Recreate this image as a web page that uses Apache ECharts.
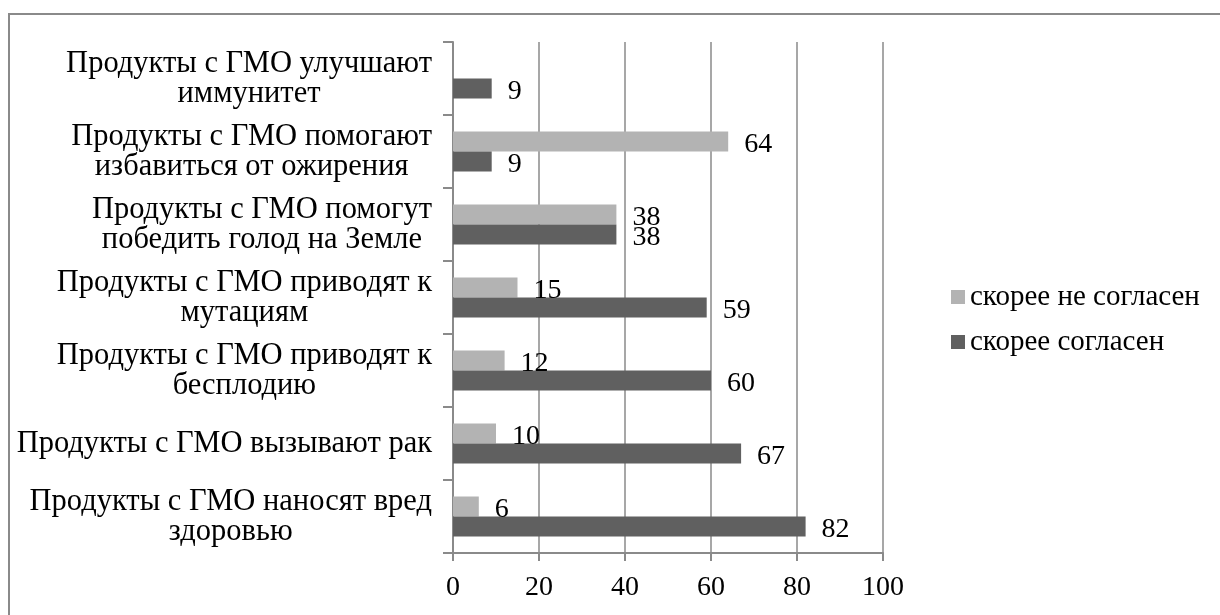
<!DOCTYPE html>
<html>
<head>
<meta charset="utf-8">
<script src="https://cdn.jsdelivr.net/npm/echarts@6/dist/echarts.min.js"></script>
<style>html,body{margin:0;padding:0;background:#fff}#c{width:1220px;height:615px}</style>
</head>
<body>
<div id="c"></div>
<script>
const categories = [
  "Продукты с ГМО наносят вред\nздоровью",
  "Продукты с ГМО вызывают рак",
  "Продукты с ГМО приводят к\nбесплодию",
  "Продукты с ГМО приводят к\nмутациям",
  "Продукты с ГМО помогут\nпобедить голод на Земле",
  "Продукты с ГМО помогают\nизбавиться от ожирения",
  "Продукты с ГМО улучшают\nиммунитет"
];
const agreeName = "скорее согласен";
const disagreeName = "скорее не согласен";
const agree = [82, 67, 60, 59, 38, 9, 9];
const disagree = [6, 10, 12, 15, 38, 64, null];
const xTicks = [0, 20, 40, 60, 80, 100];

const FONT = "'Liberation Serif', 'Times New Roman', serif";
const chart = echarts.init(document.getElementById('c'), null, {renderer: 'canvas'});
const labelCommon = {
  show: true, position: 'right', distance: 16, offset: [0, 3],
  fontFamily: FONT, fontSize: 28, color: '#000',
  formatter: p => (p.value == null ? '' : String(p.value))
};
chart.setOption({
  animation: false,
  graphic: [{
    type: 'rect', shape: {x: 9, y: 14, width: 1300, height: 700},
    style: {fill: 'none', stroke: '#8a8a8a', lineWidth: 2}, silent: true, z: 100
  }],
  grid: {left: 453, right: 337, top: 42, bottom: 62, containLabel: false},
  legend: {
    orient: 'vertical', left: 946, top: 277, itemWidth: 14, itemHeight: 14, itemGap: 15,
    data: [disagreeName, agreeName],
    textStyle: {fontFamily: FONT, fontSize: 29, color: '#000', lineHeight: 30},
    icon: 'rect'
  },
  xAxis: {
    type: 'value', min: 0, max: 100, interval: 20,
    axisLine: {show: true, lineStyle: {color: '#8a8a8a', width: 2}},
    axisTick: {show: true, length: 8, lineStyle: {color: '#8a8a8a', width: 2}},
    splitLine: {show: true, lineStyle: {color: '#8a8a8a', width: 1.5}},
    axisLabel: {fontFamily: FONT, fontSize: 28, color: '#000', margin: 21,
      formatter: v => xTicks.includes(v) ? String(v) : ''}
  },
  yAxis: {
    type: 'category', data: categories,
    axisLine: {show: true, lineStyle: {color: '#8a8a8a', width: 2}},
    axisTick: {show: true, length: 10, lineStyle: {color: '#8a8a8a', width: 2}},
    axisLabel: {
      fontFamily: FONT, fontSize: 30.5, color: '#000', margin: 21, lineHeight: 30,
      formatter: v => v.split('\n').map(s => '{c|' + s + '}').join('\n'),
      rich: {c: {align: 'center', fontFamily: FONT, fontSize: 30.5, lineHeight: 30, color: '#000'}}
    }
  },
  series: [
    {name: disagreeName, type: 'bar', data: disagree, barWidth: 20, barGap: '0%',
      itemStyle: {color: '#b3b3b3'}, label: labelCommon},
    {name: agreeName, type: 'bar', data: agree, barWidth: 20, barGap: '0%',
      itemStyle: {color: '#606060'}, label: labelCommon}
  ]
});
</script>
</body>
</html>
